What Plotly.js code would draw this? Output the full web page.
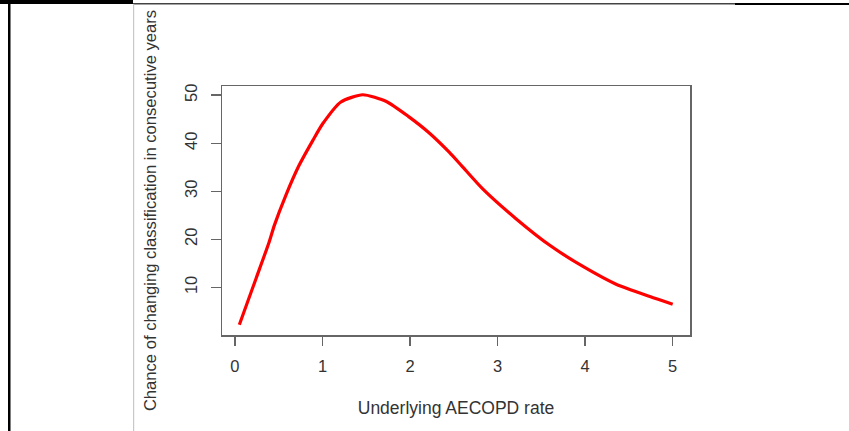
<!DOCTYPE html>
<html>
<head>
<meta charset="utf-8">
<script src="https://cdn.plot.ly/plotly-3.0.1.min.js"></script>
<style>html,body{margin:0;padding:0;background:#fff;}#chart{width:849px;height:431px;}</style>
</head>
<body>
<div id="chart"></div>
<script>
// Data
var rate = [0.05, 0.24, 0.39, 0.45, 0.58, 0.73, 0.89, 1.00, 1.21, 1.46, 1.73, 1.98, 2.21, 2.45, 2.59, 2.83, 3.21, 3.60, 3.98, 4.36, 4.74, 5.00];
var chance = [2.2, 11.8, 19.4, 22.9, 29.1, 35.3, 40.6, 44.0, 48.6, 50.1, 48.7, 45.6, 42.3, 38.1, 35.3, 30.5, 24.3, 18.7, 14.3, 10.6, 8.1, 6.5];
var xTicks = [0, 1, 2, 3, 4, 5];
var yTicks = [10, 20, 30, 40, 50];
var xTitle = "Underlying AECOPD rate";
var yTitle = "Chance of changing classification in consecutive years";

var W = 849, H = 431, L = 222, R = 690, T = 86, B = 335;
function px(x) { return (x - L) / (R - L); }
function py(y) { return (B - y) / (B - T); }
function rect(x0, y0, x1, y1, col) {
  return {type: 'rect', xref: 'paper', yref: 'paper', x0: px(x0), x1: px(x1), y0: py(y1), y1: py(y0),
          fillcolor: col, line: {width: 0}, layer: 'above'};
}
var shapes = [
  rect(0, 0, 133, 4, '#000'),
  rect(133, 3, 735, 4.5, '#444'),
  rect(735, 3, 849, 5, '#000'),
  rect(8, 0, 10.5, 431, '#000'),
  rect(133, 4, 134.2, 431, '#c8c8c8')
];

var trace = {
  x: rate, y: chance, type: 'scatter', mode: 'lines',
  line: {color: '#ff0000', width: 3.2, shape: 'spline', smoothing: 0.6},
  hoverinfo: 'skip'
};

var fontFam = '"Liberation Sans", Arial, sans-serif';
var layout = {
  width: W, height: H,
  margin: {l: L, r: W - R, t: T, b: H - B, pad: 0},
  paper_bgcolor: '#fff', plot_bgcolor: '#fff',
  showlegend: false,
  font: {family: fontFam, size: 16, color: '#333'},
  xaxis: {
    range: [-0.148, 5.198], tickvals: xTicks, ticktext: xTicks.map(String),
    showgrid: false, zeroline: false, showline: true, mirror: true,
    linecolor: '#666', linewidth: 1.5, ticks: 'outside', ticklen: 9, tickwidth: 1.5, tickcolor: '#666',
    ticklabelstandoff: 7,
    tickfont: {family: fontFam, size: 16.5, color: '#333'},
    title: {text: xTitle, font: {family: fontFam, size: 17.5, color: '#333'}, standoff: 27}
  },
  yaxis: {
    range: [0.08, 51.92], tickvals: yTicks, ticktext: yTicks.map(String), tickangle: -90,
    showgrid: false, zeroline: false, showline: true, mirror: true,
    linecolor: '#666', linewidth: 1.5, ticks: 'outside', ticklen: 10, tickwidth: 1.5, tickcolor: '#666',
    ticklabelstandoff: 7,
    tickfont: {family: fontFam, size: 16.5, color: '#333'},
    title: {text: yTitle, font: {family: fontFam, size: 16.6, color: '#333'}, standoff: 21}
  },
  shapes: shapes
};

Plotly.newPlot('chart', [trace], layout, {displayModeBar: false, staticPlot: true});
</script>
</body>
</html>
